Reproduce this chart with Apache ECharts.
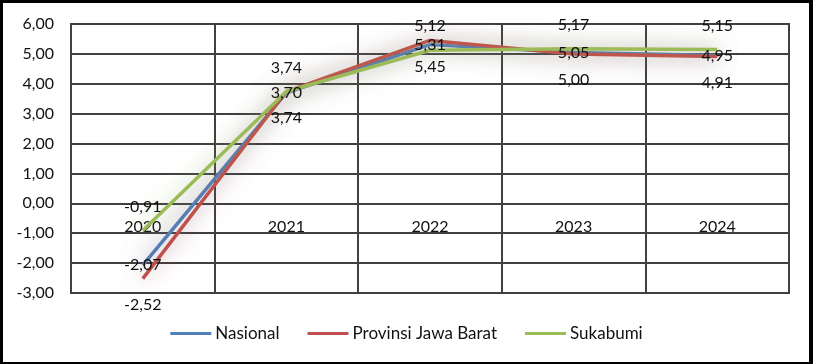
<!DOCTYPE html>
<html>
<head>
<meta charset="utf-8">
<script src="https://cdn.jsdelivr.net/npm/echarts@6/dist/echarts.min.js"></script>
<style>
html,body{margin:0;padding:0;background:#fff;}
#wrap{position:absolute;left:0;top:0;width:813px;height:364px;box-sizing:border-box;border-left:3px solid #000;border-top:3px solid #000;border-right:4px solid #000;border-bottom:2px solid #000;}
#chart{position:absolute;left:0;top:0;width:813px;height:364px;}
</style>
</head>
<body>
<div id="chart"></div>
<div id="wrap"></div>
<script>
const years = ['2020', '2021', '2022', '2023', '2024'];
const nasional = [-2.07, 3.70, 5.31, 5.05, 4.95];
const jabar = [-2.52, 3.74, 5.45, 5.00, 4.91];
const sukabumi = [-0.91, 3.74, 5.12, 5.17, 5.15];
const seriesNames = ['Nasional', 'Provinsi Jawa Barat', 'Sukabumi'];
const seriesColors = ['#4F81BD', '#C0504D', '#9BBB59'];

const FONT = 'Lato';
const fmt = v => Number(v).toFixed(2).replace('.', ',');
const chart = echarts.init(document.getElementById('chart'), null, {renderer: 'canvas'});

function mkSeries(name, data, color, shadow, labelPos, dist) {
  return {
    name: name, type: 'line', data: data, symbol: 'circle', symbolSize: 2, showSymbol: true, smooth: false,
    lineStyle: {color: color, width: 3.5, shadowBlur: 22, shadowColor: shadow},
    itemStyle: {color: 'rgba(0,0,0,0)'},
    label: {show: true, position: labelPos, distance: dist, color: '#111', fontFamily: FONT, fontSize: 16,
      formatter: p => fmt(p.value)},
    labelLayout: {hideOverlap: false},
    z: 3
  };
}

chart.setOption({
  animation: false,
  backgroundColor: '#fff',
  textStyle: {fontFamily: FONT},
  grid: {left: 71, right: 24, top: 24, bottom: 71, show: true, borderColor: '#404040', borderWidth: 2},
  legend: {
    data: seriesNames.map((n, i) => ({name: n, itemStyle: {color: seriesColors[i]}})),
    bottom: 17, left: 'center', icon: 'rect', itemWidth: 41, itemHeight: 3, itemGap: 28,
    textStyle: {fontFamily: FONT, fontSize: 17, color: '#111', padding: [0, 0, 0, -1]}
  },
  xAxis: {
    type: 'category', data: years, boundaryGap: true,
    axisLine: {onZero: false, lineStyle: {color: '#404040', width: 2}},
    axisTick: {show: false},
    axisLabel: {margin: -74, color: '#111', fontFamily: FONT, fontSize: 16},
    splitLine: {show: true, lineStyle: {color: '#404040', width: 2}}
  },
  yAxis: {
    type: 'value', min: -3, max: 6, interval: 1,
    axisLine: {show: true, lineStyle: {color: '#404040', width: 2}}, axisTick: {show: false},
    axisLabel: {margin: 17, color: '#111', fontFamily: FONT, fontSize: 16, formatter: v => fmt(v)},
    splitLine: {show: true, lineStyle: {color: '#404040', width: 2}}
  },
  series: [
    mkSeries(seriesNames[0], nasional, seriesColors[0], 'rgba(79,129,189,0.6)', 'inside', 0),
    mkSeries(seriesNames[1], jabar, seriesColors[1], 'rgba(192,80,77,0.6)', 'bottom', 17),
    mkSeries(seriesNames[2], sukabumi, seriesColors[2], 'rgba(155,187,89,0.6)', 'top', 15)
  ]
});
</script>
</body>
</html>
